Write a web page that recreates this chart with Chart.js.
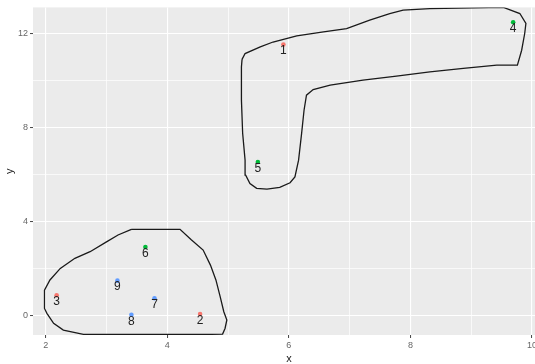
<!DOCTYPE html>
<html>
<head>
<meta charset="utf-8">
<script src="https://cdn.jsdelivr.net/npm/chart.js@4.4.1/dist/chart.umd.min.js"></script>
<style>
  html, body { margin: 0; padding: 0; background: #fff; overflow: hidden; }
  #wrap { width: 535px; height: 364px; overflow: hidden; }
</style>
</head>
<body>
<div id="wrap"><canvas id="c" width="550" height="364"></canvas></div>
<script>
// points (label, x, y, group)
const ids = ['1', '2', '3', '4', '5', '6', '7', '8', '9'];
const xs = [5.91, 4.54, 2.18, 9.69, 5.49, 3.64, 3.79, 3.41, 3.18];
const ys = [11.52, 0.07, 0.87, 12.47, 6.53, 2.92, 0.74, 0.04, 1.49];
const groups = [0, 0, 0, 1, 1, 1, 2, 2, 2];
const group_colors = ['#F8766D', '#00BA38', '#619CFF'];

// outline round the lower-left cluster
const hull1_x = [3.41, 4.21, 4.39, 4.59, 4.71, 4.80, 4.87, 4.93, 4.98, 4.95, 4.91, 4.73,
  2.62, 2.29, 2.13, 2.02, 1.98, 1.98, 2.07, 2.24, 2.48, 2.73, 3.00, 3.19, 3.41];
const hull1_y = [3.67, 3.67, 3.24, 2.79, 2.15, 1.52, 0.81, 0.17, -0.18, -0.54, -0.78, -0.79,
  -0.79, -0.61, -0.32, 0.10, 0.31, 1.09, 1.52, 2.01, 2.44, 2.72, 3.14, 3.43, 3.67];

// outline round the upper-right cluster
const hull2_x = [5.23, 5.28, 5.53, 5.74, 6.13, 6.57, 6.95, 7.33, 7.66, 7.88, 8.32, 9.53,
  9.80, 9.90, 9.88, 9.83, 9.76, 9.42, 8.87, 8.32, 7.77, 7.22, 6.68, 6.40, 6.29, 6.25,
  6.21, 6.16, 6.10, 6.02, 5.85, 5.64, 5.47, 5.36, 5.29, 5.28, 5.24, 5.22, 5.22, 5.23];
const hull2_y = [10.89, 11.14, 11.42, 11.63, 11.89, 12.06, 12.20, 12.56, 12.84, 12.98, 13.05, 13.10,
  12.84, 12.42, 11.99, 11.28, 10.65, 10.65, 10.51, 10.36, 10.18, 10.01, 9.80, 9.61, 9.37, 8.73,
  7.75, 6.61, 5.90, 5.65, 5.45, 5.38, 5.41, 5.62, 5.97, 6.61, 7.75, 9.16, 10.57, 10.89];

const x_ticks = [2, 3, 4, 5, 6, 7, 8, 9, 10];
const y_ticks = [0, 2, 4, 6, 8, 10, 12];

function zip(a, b) {
  return a.map((v, i) => ({ x: v, y: b[i] }));
}

const datasets = [];
[hull1_x, hull2_x].forEach((hx, k) => {
  const hy = k === 0 ? hull1_y : hull2_y;
  datasets.push({
    data: zip(hx, hy),
    showLine: true,
    borderColor: '#1a1a1a',
    borderWidth: 1.3,
    pointRadius: 0,
    tension: 0
  });
});
group_colors.forEach((col, g) => {
  const idx = groups.map((gg, i) => gg === g ? i : -1).filter(i => i >= 0);
  datasets.push({
    data: idx.map(i => ({ x: xs[i], y: ys[i], id: ids[i] })),
    pointRadius: 2.3,
    pointBackgroundColor: col,
    pointBorderWidth: 0,
    showLine: false
  });
});

const panel_bg = {
  id: 'panel_bg',
  beforeDraw: (chart) => {
    const { left, top, width, height } = chart.chartArea;
    const ctx = chart.ctx;
    ctx.save();
    ctx.fillStyle = '#EBEBEB';
    ctx.fillRect(left, top, width, height);
    ctx.restore();
  }
};

const point_labels = {
  id: 'point_labels',
  afterDatasetsDraw: (chart) => {
    const ctx = chart.ctx;
    const sx = chart.scales.x, sy = chart.scales.y;
    ctx.save();
    ctx.font = '12px "Liberation Sans", Arial, sans-serif';
    ctx.fillStyle = '#222';
    ctx.textAlign = 'center';
    ctx.textBaseline = 'middle';
    ids.forEach((lab, i) => {
      ctx.fillText(lab, sx.getPixelForValue(xs[i]), sy.getPixelForValue(ys[i]) + 6.5);
    });
    ctx.restore();
  }
};

const major_x = v => v % 2 === 0;
const major_y = v => v % 4 === 0;

new Chart(document.getElementById('c'), {
  type: 'scatter',
  data: { datasets: datasets },
  options: {
    responsive: false,
    animation: false,
    events: [],
    layout: { padding: { top: 7, right: 5, left: 0, bottom: 0 } },
    plugins: { legend: { display: false }, tooltip: { enabled: false } },
    scales: {
      x: {
        type: 'linear',
        min: 1.791,
        max: 10.214,
        afterBuildTicks: (s) => { s.ticks = x_ticks.map(v => ({ value: v })); },
        afterFit: (s) => { s.height = 29; },
        border: { display: false },
        grid: {
          color: '#fff',
          lineWidth: (c) => c.tick && major_x(c.tick.value) ? 1.1 : 0.7,
          tickColor: (c) => c.tick && major_x(c.tick.value) ? '#444' : 'rgba(0,0,0,0)',
          tickLength: 3,
          tickWidth: 1
        },
        ticks: {
          autoSkip: false,
          maxRotation: 0,
          padding: 2,
          color: '#666',
          font: { family: '"Liberation Sans", Arial, sans-serif', size: 9 },
          callback: (v) => major_x(v) ? String(v) : ''
        },
        title: {
          display: true,
          text: 'x',
          color: '#222',
          padding: { top: 0, bottom: 0 },
          font: { family: '"Liberation Sans", Arial, sans-serif', size: 11, lineHeight: 1 }
        }
      },
      y: {
        type: 'linear',
        min: -0.819,
        max: 13.10,
        afterBuildTicks: (s) => { s.ticks = y_ticks.map(v => ({ value: v })); },
        afterFit: (s) => { s.width = 33; },
        border: { display: false },
        grid: {
          color: '#fff',
          lineWidth: (c) => c.tick && major_y(c.tick.value) ? 1.1 : 0.7,
          tickColor: (c) => c.tick && major_y(c.tick.value) ? '#444' : 'rgba(0,0,0,0)',
          tickLength: 3,
          tickWidth: 1
        },
        ticks: {
          autoSkip: false,
          padding: 2,
          color: '#666',
          font: { family: '"Liberation Sans", Arial, sans-serif', size: 9 },
          callback: (v) => major_y(v) ? String(v) : ''
        },
        title: {
          display: true,
          text: 'y',
          color: '#222',
          padding: { top: 4, bottom: 0 },
          font: { family: '"Liberation Sans", Arial, sans-serif', size: 11, lineHeight: 1 }
        }
      }
    }
  },
  plugins: [panel_bg, point_labels]
});
</script>
</body>
</html>
